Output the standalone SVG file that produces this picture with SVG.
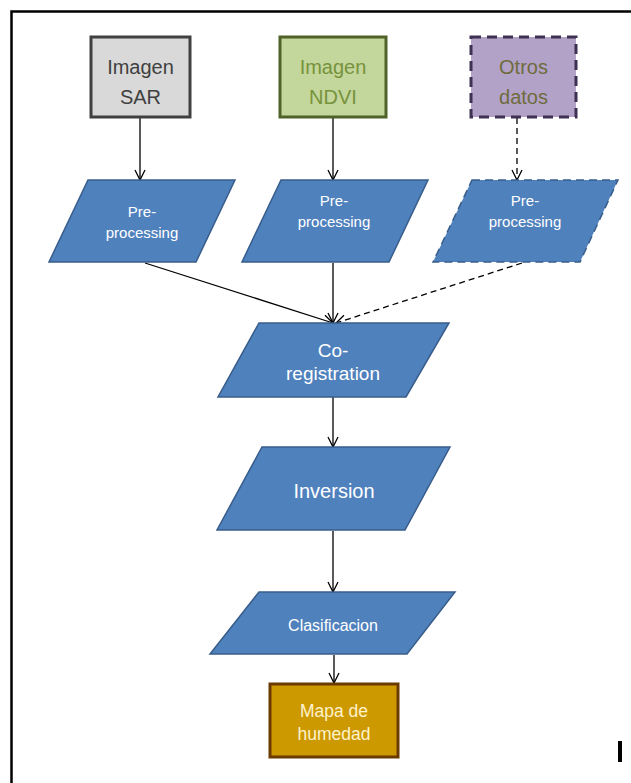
<svg xmlns="http://www.w3.org/2000/svg" width="631" height="783" viewBox="0 0 631 783">
<style>
  text { font-family: "Liberation Sans", Arial, sans-serif; text-anchor: middle; }
  .para { fill: #4f81bd; stroke: #385d8a; stroke-width: 1.5; }
  .wt { fill: #ffffff; }
  .conn { stroke: #000; stroke-width: 1.3; fill: none; marker-end: url(#arr); }
  .dash { stroke-dasharray: 6 4; }
</style>
<defs>
  <marker id="arr" viewBox="0 0 12 12" refX="11" refY="6" markerWidth="12" markerHeight="12" markerUnits="userSpaceOnUse" orient="auto">
    <polyline points="1,1 11,6 1,11" fill="none" stroke="#000" stroke-width="1.3"/>
  </marker>
</defs>
<rect x="0" y="0" width="631" height="783" fill="#fff"/>
<rect x="11.5" y="11.5" width="660" height="820" fill="none" stroke="#000" stroke-width="2.5"/>

<g id="connectors">
  <line class="conn" x1="140" y1="118" x2="140" y2="180"/>
  <line class="conn" x1="333" y1="118" x2="333" y2="180"/>
  <line class="conn dash" x1="517" y1="118" x2="517" y2="180"/>
  <line class="conn" x1="145" y1="263" x2="333" y2="323"/>
  <line class="conn" x1="333" y1="263" x2="333" y2="323"/>
  <line class="conn dash" x1="522" y1="263" x2="336" y2="323"/>
  <line class="conn" x1="333" y1="397" x2="333" y2="447"/>
  <line class="conn" x1="333" y1="531" x2="333" y2="592"/>
  <line class="conn" x1="334" y1="655" x2="334" y2="683"/>
</g>

<g id="sar">
  <rect x="91" y="37" width="99" height="80" fill="#d9d9d9" stroke="#404040" stroke-width="3"/>
  <text x="140.5" y="74" font-size="20" fill="#404040">Imagen</text>
  <text x="140.5" y="104" font-size="20" fill="#404040">SAR</text>
</g>
<g id="ndvi">
  <rect x="280" y="37" width="106" height="80" fill="#c3d69b" stroke="#4f6228" stroke-width="3"/>
  <text x="333" y="74" font-size="20" fill="#77933c">Imagen</text>
  <text x="333" y="104" font-size="20" fill="#77933c">NDVI</text>
</g>
<g id="otros">
  <rect x="471" y="37" width="105" height="80" fill="#b3a2c7" stroke="#3f3151" stroke-width="3" stroke-dasharray="10 6"/>
  <text x="523.5" y="74" font-size="20" fill="#6e6b3d">Otros</text>
  <text x="523.5" y="104" font-size="20" fill="#6e6b3d">datos</text>
</g>

<g id="pre1">
  <polygon class="para" points="88,180 235,180 196,262 49,262"/>
  <text class="wt" x="142" y="217" font-size="15">Pre-</text>
  <text class="wt" x="142" y="238" font-size="15">processing</text>
</g>
<g id="pre2">
  <polygon class="para" points="281,180 428,180 389,262 242,262"/>
  <text class="wt" x="334" y="206" font-size="15">Pre-</text>
  <text class="wt" x="334" y="227" font-size="15">processing</text>
</g>
<g id="pre3">
  <polygon class="para" points="472,180 618,180 580,262 433,262" stroke-dasharray="8 5"/>
  <text class="wt" x="525" y="206" font-size="15">Pre-</text>
  <text class="wt" x="525" y="227" font-size="15">processing</text>
</g>

<g id="coreg">
  <polygon class="para" points="259,323 449,323 406,397 218,397"/>
  <text class="wt" x="333" y="357" font-size="19">Co-</text>
  <text class="wt" x="333" y="380" font-size="19">registration</text>
</g>
<g id="inversion">
  <polygon class="para" points="262,447 450,447 405,530 217,530"/>
  <text class="wt" x="334" y="498" font-size="20">Inversion</text>
</g>
<g id="clasificacion">
  <polygon class="para" points="259,592 455,592 407,654 210,654"/>
  <text class="wt" x="333" y="631" font-size="16">Clasificacion</text>
</g>
<g id="mapa">
  <rect x="270" y="684" width="128" height="73" fill="#cc9900" stroke="#6b3a00" stroke-width="3"/>
  <text x="334" y="717" font-size="17.5" fill="#fff2cc">Mapa de</text>
  <text x="334" y="740" font-size="17.5" fill="#fff2cc">humedad</text>
</g>
<rect x="618" y="741" width="4" height="21" fill="#000"/>
</svg>
